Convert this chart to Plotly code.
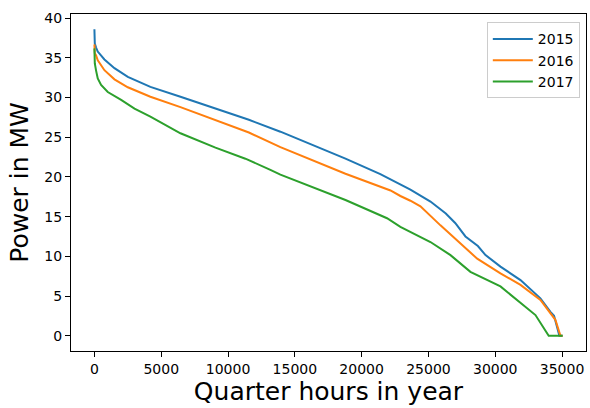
import plotly.graph_objects as go

# Sorted load (duration curve) per year, sampled at quarter-hour indices
x_2015 = [0, 30, 125, 250, 750, 1500, 2500, 4190, 6440, 9060, 11560, 13920,
          18790, 21400, 22900, 23650, 25150, 26300, 26650, 27000, 27770, 28700,
          29270, 30390, 31890, 33380, 34130, 34400, 34800, 35040]
y_2015 = [38.6, 36.8, 36.3, 35.8, 34.8, 33.7, 32.6, 31.35, 30.1, 28.6, 27.2, 25.7,
          22.3, 20.35, 19.1, 18.4, 16.9, 15.4, 14.8, 14.2, 12.5, 11.3,
          10.15, 8.7, 7.0, 4.7, 3.0, 2.5, 0.0, 0.0]

x_2016 = [0, 30, 125, 250, 750, 1500, 2500, 4190, 6440, 9060, 11560, 13920,
          18790, 22160, 22900, 23650, 24400, 25900, 27400, 28650, 30390, 31890,
          33380, 34130, 34500, 34880, 35040]
y_2016 = [36.7, 35.6, 35.3, 34.7, 33.45, 32.3, 31.3, 30.1, 28.8, 27.2, 25.6, 23.75,
          20.4, 18.3, 17.6, 17.0, 16.3, 13.9, 11.6, 9.7, 7.85, 6.4,
          4.5, 2.9, 2.0, 0.0, 0.0]

x_2017 = [0, 30, 125, 250, 500, 1000, 2000, 3000, 4190, 6440, 9060, 10180, 11300,
          13170, 13920, 18790, 21400, 21900, 22900, 23650, 25150, 26650, 28140,
          30390, 31890, 33010, 34000, 35040]
y_2017 = [36.2, 34.3, 33.4, 32.4, 31.6, 30.7, 29.7, 28.6, 27.6, 25.5, 23.7, 23.0, 22.3,
          20.9, 20.3, 17.1, 15.2, 14.8, 13.7, 13.1, 11.8, 10.15, 8.05,
          6.2, 4.1, 2.6, 0.0, 0.0]

years = ["2015", "2016", "2017"]
xs = [x_2015, x_2016, x_2017]
ys = [y_2015, y_2016, y_2017]
colors = ["#1f77b4", "#ff7f0e", "#2ca02c"]

x_ticks = [0, 5000, 10000, 15000, 20000, 25000, 30000, 35000]
x_tick_labels = [str(v) for v in x_ticks]
y_ticks = [0, 5, 10, 15, 20, 25, 30, 35, 40]
y_tick_labels = [str(v) for v in y_ticks]

fig = go.Figure()
for name, xv, yv, c in zip(years, xs, ys, colors):
    fig.add_trace(go.Scatter(x=xv, y=yv, mode="lines", name=name,
                             line=dict(color=c, width=2)))

font = "DejaVu Sans"
axis_common = dict(
    showgrid=False, zeroline=False,
    showline=True, linecolor="black", linewidth=1, mirror=True,
    ticks="outside", ticklen=5, tickwidth=1, tickcolor="black",
    tickfont=dict(family=font, size=14, color="black"),
)

fig.update_layout(
    width=590, height=408,
    margin=dict(l=71, r=4, t=14, b=57),
    paper_bgcolor="white", plot_bgcolor="white",
    font=dict(family=font, color="black"),
    xaxis=dict(range=[-1752, 36792], tickvals=x_ticks, ticktext=x_tick_labels,
               title=dict(text="Quarter hours in year", font=dict(size=25), standoff=6),
               **axis_common),
    yaxis=dict(range=[-1.93, 40.53], tickvals=y_ticks, ticktext=y_tick_labels,
               title=dict(text="Power in MW", font=dict(size=25), standoff=8),
               **axis_common),
    legend=dict(x=0.988, y=0.975, xanchor="right", yanchor="top", itemwidth=40,
                bgcolor="rgba(255,255,255,0.8)", bordercolor="#cccccc", borderwidth=1,
                font=dict(family=font, size=14, color="black")),
)

fig.write_html("out.html")
